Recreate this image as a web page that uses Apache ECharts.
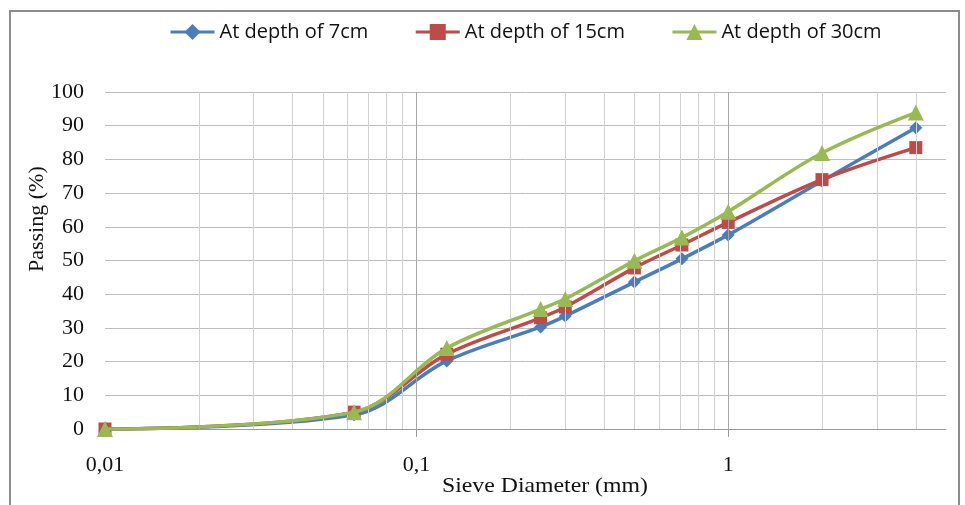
<!DOCTYPE html>
<html>
<head>
<meta charset="utf-8">
<script src="https://cdn.jsdelivr.net/npm/echarts@6/dist/echarts.min.js"></script>
<style>
html,body{margin:0;padding:0;background:#fff;overflow:hidden;}
#frame{position:absolute;left:9px;top:10px;width:951px;height:520px;border:2px solid #8c8c8c;box-sizing:border-box;}
#chart{position:absolute;left:0;top:0;width:965px;height:505px;}
</style>
</head>
<body>
<div id="frame"></div>
<div id="chart"></div>
<script>
// Sieve sizes (mm)
const sieve = [0.01, 0.063, 0.125, 0.25, 0.3, 0.5, 0.71, 1, 2, 4];
// Passing (%)
const depth7  = [0, 4.2, 20.2, 30.3, 33.5, 43.6, 50.5, 57.6, 73.6, 89.4];
const depth15 = [0, 5.0, 22.2, 33.0, 36.2, 47.8, 54.6, 61.3, 74.0, 83.5];
const depth30 = [0, 5.0, 24.0, 35.6, 38.6, 49.9, 56.8, 64.5, 81.9, 93.9];
const seriesNames = ['At depth of 7cm', 'At depth of 15cm', 'At depth of 30cm'];
const xLabelValues = [0.01, 0.1, 1];
const xLabelTexts = ['0,01', '0,1', '1'];
const xMinorGrid = [0.02,0.03,0.04,0.05,0.06,0.07,0.08,0.09,0.2,0.3,0.4,0.5,0.6,0.7,0.8,0.9,2,3,4];
const xMajorGrid = [0.1, 1];

const colors = ['#4A7EBB', '#BE4B48', '#98B954'];
const symbols = ['diamond', 'rect', 'triangle'];
const sizes = [13, 13, 16];
const vals = [depth7, depth15, depth30];

const chart = echarts.init(document.getElementById('chart'), null, {renderer: 'canvas'});
const serif = '"Liberation Serif", "Times New Roman", serif';

const series = [
  {
    type: 'line', name: '_grid', data: [], silent: true, legendHoverLink: false,
    markLine: {
      silent: true, symbol: 'none', label: {show: false}, animation: false,
      data: xMinorGrid.map(v => ({xAxis: v, lineStyle: {color: '#d2d2d2', width: 1, type: 'solid'}}))
        .concat(xMajorGrid.map(v => ({xAxis: v, lineStyle: {color: '#a6a6a6', width: 1, type: 'solid'}})))
    }
  }
];
for (let i = 0; i < 3; i++) {
  series.push({
    type: 'line', name: seriesNames[i], smooth: 0.35,
    data: sieve.map((x, j) => [x, vals[i][j]]),
    symbol: symbols[i], symbolSize: sizes[i],
    lineStyle: {color: colors[i], width: 3.5},
    itemStyle: {color: colors[i]},
    z: 3 + i
  });
}

chart.setOption({
  animation: false,
  backgroundColor: 'transparent',
  legend: {
    data: seriesNames,
    left: 164, top: 17,
    itemWidth: 44, itemHeight: 20, itemGap: 46,
    lineStyle: {width: 3},
    textStyle: {fontFamily: '"Open Sans", sans-serif', fontSize: 20, color: '#111'}
  },
  grid: {left: 105, top: 92, width: 841, height: 337, containLabel: false},
  xAxis: {
    type: 'log', logBase: 10, min: 0.01, max: 5,
    axisLine: {show: true, lineStyle: {color: '#9a9a9a', width: 1}},
    axisTick: {show: true, length: 8, customValues: xMajorGrid, lineStyle: {color: '#9a9a9a'}},
    splitLine: {show: false},
    axisLabel: {
      margin: 25, color: '#111', fontFamily: serif, fontSize: 22,
      customValues: xLabelValues,
      formatter: v => {
        for (let k = 0; k < xLabelValues.length; k++) {
          if (Math.abs(v - xLabelValues[k]) < 1e-9) return xLabelTexts[k];
        }
        return '';
      }
    }
  },
  yAxis: {
    type: 'value', min: 0, max: 100, interval: 10,
    axisLine: {show: false}, axisTick: {show: false},
    splitLine: {lineStyle: {color: '#bdbdbd', width: 1}},
    axisLabel: {margin: 21, color: '#111', fontFamily: serif, fontSize: 22}
  },
  graphic: [
    {type: 'text', left: 442, top: 475, style: {text: 'Sieve Diameter (mm)', font: '22px ' + serif, fill: '#111'}, scaleX: 1.08},
    {type: 'text', x: 26, y: 272, rotation: Math.PI / 2, style: {text: 'Passing (%)', font: '22px ' + serif, fill: '#111'}}
  ],
  series: series
});
</script>
</body>
</html>
